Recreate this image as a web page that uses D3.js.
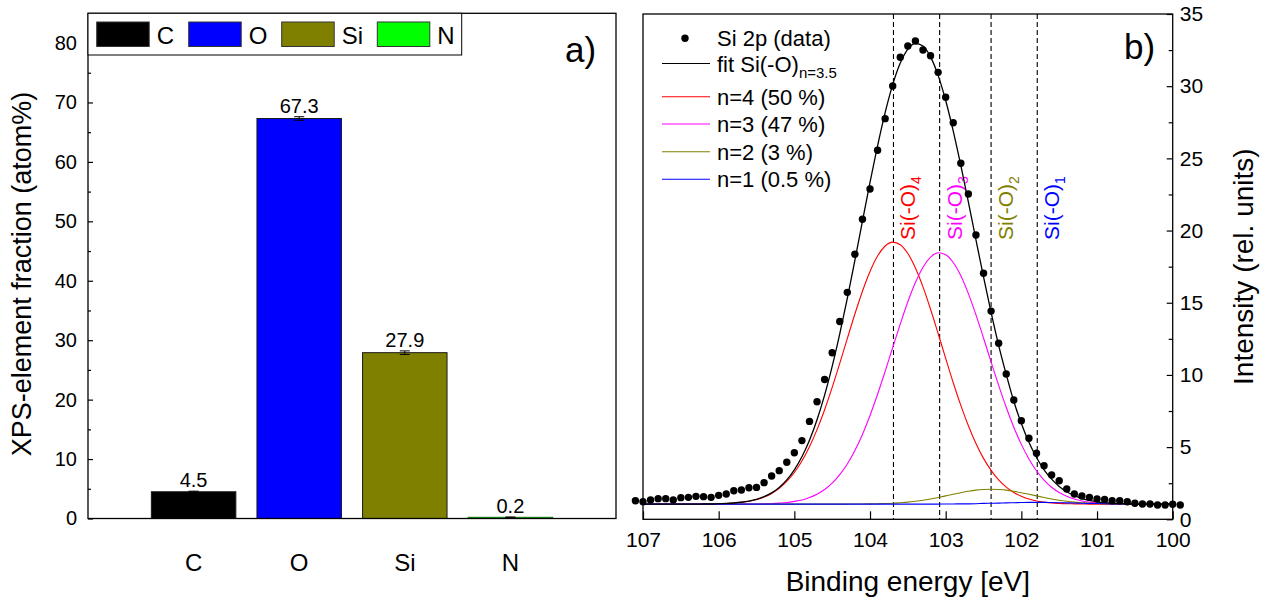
<!DOCTYPE html>
<html><head><meta charset="utf-8">
<script src="https://cdn.jsdelivr.net/npm/d3@7"></script>
<style>
body{margin:0;background:#fff;}
svg{display:block;font-family:"Liberation Sans",Arial,sans-serif;}
</style></head><body>
<svg id="chart" width="1267" height="606"></svg>
<script>
// ---------- Panel a data ----------
const elements = ["C", "O", "Si", "N"];
const fractions = [4.5, 67.3, 27.9, 0.2];
const fractionErr = [0.1, 0.3, 0.3, 0.05];
const fractionLabels = ["4.5", "67.3", "27.9", "0.2"];
const aMajorTicks = [0, 10, 20, 30, 40, 50, 60, 70, 80];
const aMinorTicks = [5, 15, 25, 35, 45, 55, 65, 75];

// ---------- Panel b data ----------
const dataEnergy = [107.1,107.0,106.9,106.8,106.7,106.6,106.5,106.4,106.3,106.2,
  106.1,106.0,105.9,105.8,105.7,105.6,105.5,105.4,105.3,105.2,
  105.1,105.0,104.9,104.8,104.7,104.6,104.5,104.4,104.3,104.2,
  104.1,104.0,103.9,103.8,103.7,103.6,103.5,103.4,103.3,103.2,
  103.1,103.0,102.9,102.8,102.7,102.6,102.5,102.4,102.3,102.2,
  102.1,102.0,101.9,101.8,101.7,101.6,101.5,101.4,101.3,101.2,
  101.1,101.0,100.9,100.8,100.7,100.6,100.5,100.4,100.3,100.2,
  100.1,100.0,99.9];
const dataIntensity = [1.29,1.22,1.34,1.43,1.43,1.34,1.50,1.52,1.59,1.57,
  1.52,1.66,1.75,1.98,2.03,2.19,2.21,2.54,3.00,3.37,
  3.95,4.61,5.45,6.78,8.14,9.68,11.54,13.70,15.72,18.36,
  20.78,22.88,25.56,27.75,30.01,32.00,32.78,33.13,32.51,32.11,
  30.96,29.23,27.47,24.66,22.53,19.69,17.04,14.42,12.19,10.06,
  8.26,6.83,5.61,4.57,3.71,3.07,2.67,2.10,1.75,1.61,
  1.52,1.41,1.38,1.29,1.29,1.22,1.11,1.06,1.06,0.99,
  0.99,1.04,0.99];

const fitEnergy = [107.0,106.9,106.8,106.7,106.6,106.5,106.4,106.3,106.2,106.1,
  106.0,105.9,105.8,105.7,105.6,105.5,105.4,105.3,105.2,105.1,
  105.0,104.9,104.8,104.7,104.6,104.5,104.4,104.3,104.2,104.1,
  104.0,103.9,103.8,103.7,103.6,103.5,103.4,103.3,103.2,103.1,
  103.0,102.9,102.8,102.7,102.6,102.5,102.4,102.3,102.2,102.1,
  102.0,101.9,101.8,101.7,101.6,101.5,101.4,101.3,101.2,101.1,
  101.0,100.9,100.8,100.7,100.6,100.5,100.4,100.3,100.2,100.1,
  100.0];
const fitTotal = [1.05,1.05,1.05,1.05,1.05,1.05,1.05,1.05,1.06,1.06,
  1.08,1.10,1.13,1.18,1.26,1.38,1.57,1.83,2.21,2.73,
  3.43,4.33,5.48,6.90,8.60,10.59,12.84,15.31,17.94,20.65,
  23.33,25.87,28.17,30.11,31.60,32.57,32.97,32.78,32.03,30.75,
  29.01,26.89,24.51,21.97,19.36,16.79,14.33,12.05,10.04,8.18,
  6.63,5.33,4.28,3.43,2.78,2.28,1.91,1.64,1.44,1.31,
  1.21,1.15,1.11,1.09,1.07,1.06,1.05,1.05,1.05,1.05,
  1.05];
const fitN4 = [1.05,1.05,1.05,1.05,1.05,1.05,1.05,1.05,1.06,1.06,
  1.08,1.09,1.13,1.18,1.25,1.37,1.54,1.79,2.14,2.62,
  3.24,4.04,5.03,6.21,7.59,9.14,10.80,12.52,14.22,15.80,
  17.17,18.24,18.93,19.20,19.02,18.41,17.41,16.10,14.55,12.87,
  11.15,9.46,7.89,6.48,5.25,4.22,3.39,2.73,2.23,1.86,
  1.59,1.40,1.27,1.19,1.13,1.10,1.08,1.07,1.06,1.05,
  1.05,1.05,1.05,1.05,1.05,1.05,1.05,1.05,1.05,1.05,
  1.05];
const fitN3 = [1.05,1.05,1.05,1.05,1.05,1.05,1.05,1.05,1.05,1.05,
  1.05,1.05,1.05,1.05,1.06,1.06,1.07,1.09,1.12,1.16,
  1.24,1.34,1.51,1.74,2.06,2.50,3.09,3.83,4.76,5.88,
  7.19,8.66,10.25,11.90,13.53,15.07,16.40,17.46,18.16,18.46,
  18.33,17.79,16.87,15.63,14.16,12.56,10.90,9.28,7.76,6.38,
  5.19,4.18,3.36,2.72,2.22,1.85,1.59,1.40,1.27,1.19,
  1.13,1.10,1.08,1.07,1.06,1.05,1.05,1.05,1.05,1.05,
  1.05];
const fitN2 = [1.05,1.05,1.05,1.05,1.05,1.05,1.05,1.05,1.05,1.05,
  1.05,1.05,1.05,1.05,1.05,1.05,1.05,1.05,1.05,1.05,
  1.05,1.05,1.05,1.05,1.05,1.05,1.05,1.05,1.06,1.06,
  1.07,1.08,1.09,1.11,1.15,1.19,1.25,1.32,1.41,1.51,
  1.62,1.73,1.84,1.94,2.02,2.06,2.08,2.06,2.02,1.94,
  1.84,1.73,1.62,1.51,1.41,1.32,1.25,1.19,1.15,1.11,
  1.09,1.08,1.07,1.06,1.05,1.05,1.05,1.05,1.05,1.05,
  1.05];
const fitN1 = [1.05,1.05,1.05,1.05,1.05,1.05,1.05,1.05,1.05,1.05,
  1.05,1.05,1.05,1.05,1.05,1.05,1.05,1.05,1.05,1.05,
  1.05,1.05,1.05,1.05,1.05,1.05,1.05,1.05,1.05,1.05,
  1.05,1.05,1.05,1.05,1.05,1.05,1.05,1.05,1.05,1.05,
  1.06,1.06,1.07,1.07,1.08,1.10,1.11,1.12,1.14,1.15,
  1.16,1.17,1.17,1.17,1.16,1.15,1.14,1.13,1.11,1.10,
  1.09,1.08,1.07,1.06,1.06,1.06,1.05,1.05,1.05,1.05,
  1.05];
const peakPositions = [103.69, 103.08, 102.40, 101.79];
const peakSubscripts = ["4", "3", "2", "1"];
const bXTicks = [107, 106, 105, 104, 103, 102, 101, 100];
const bYMajorTicks = [0, 5, 10, 15, 20, 25, 30, 35];
const bYMinorTicks = [2.5, 7.5, 12.5, 17.5, 22.5, 27.5, 32.5];
const legendBLabels = ["n=4 (50 %)", "n=3 (47 %)", "n=2 (3 %)", "n=1 (0.5 %)"];

// ---------- styles ----------
const barColors = ["#000000", "#0000ff", "#808000", "#00ff00"];
const compColors = ["#ff0000", "#ff00ff", "#808000", "#0000ff"];
const FONT = "'Liberation Sans', Arial, sans-serif";

const svg = d3.select("#chart");

// ================= Panel a =================
const xA = d3.scaleLinear().domain([0, 5]).range([88, 616]);
const yA = d3.scaleLinear().domain([0, 85]).range([518.5, 13.3]);
const gA = svg.append("g");

gA.selectAll("rect.bar").data(elements).join("rect")
  .attr("class", "bar")
  .attr("x", (d, i) => xA(i + 1 - 0.4))
  .attr("width", xA(0.8) - xA(0))
  .attr("y", (d, i) => yA(fractions[i]))
  .attr("height", (d, i) => Math.max(yA(0) - yA(fractions[i]), 0.5))
  .attr("fill", (d, i) => barColors[i])
  .attr("stroke", (d, i) => i === 3 ? "#0a7a0a" : "#1a1a1a")
  .attr("stroke-width", 1);

// error bars
const eb = gA.selectAll("g.err").data(elements).join("g").attr("class", "err")
  .attr("stroke", "#000").attr("stroke-width", 1);
eb.append("line")
  .attr("x1", (d, i) => xA(i + 1)).attr("x2", (d, i) => xA(i + 1))
  .attr("y1", (d, i) => yA(fractions[i] - fractionErr[i]))
  .attr("y2", (d, i) => yA(fractions[i] + fractionErr[i]));
eb.append("line")
  .attr("x1", (d, i) => xA(i + 1) - 5).attr("x2", (d, i) => xA(i + 1) + 5)
  .attr("y1", (d, i) => yA(fractions[i] + fractionErr[i]))
  .attr("y2", (d, i) => yA(fractions[i] + fractionErr[i]));
eb.append("line")
  .attr("x1", (d, i) => xA(i + 1) - 5).attr("x2", (d, i) => xA(i + 1) + 5)
  .attr("y1", (d, i) => yA(fractions[i] - fractionErr[i]))
  .attr("y2", (d, i) => yA(fractions[i] - fractionErr[i]));

// value labels
gA.selectAll("text.val").data(elements).join("text")
  .attr("class", "val")
  .attr("x", (d, i) => xA(i + 1))
  .attr("y", (d, i) => yA(fractions[i] + fractionErr[i]) - 4)
  .attr("text-anchor", "middle")
  .attr("font-size", 20).attr("font-family", FONT)
  .text((d, i) => fractionLabels[i]);

// category labels
gA.selectAll("text.cat").data(elements).join("text")
  .attr("class", "cat")
  .attr("x", (d, i) => xA(i + 1))
  .attr("y", 571)
  .attr("text-anchor", "middle")
  .attr("font-size", 24).attr("font-family", FONT)
  .text(d => d);

// y axis a
const axA = gA.append("g").attr("transform", `translate(${xA(0)},0)`)
  .call(d3.axisLeft(yA).tickValues(aMajorTicks).tickSize(-5).tickPadding(11));
axA.select(".domain").remove();
axA.selectAll("text").attr("font-size", 20).attr("font-family", FONT).attr("fill", "#000");
axA.selectAll("line").attr("stroke-width", 1.2);
const axAm = gA.append("g").attr("transform", `translate(${xA(0)},0)`)
  .call(d3.axisLeft(yA).tickValues(aMinorTicks).tickSize(-3).tickFormat(""));
axAm.select(".domain").remove();
axAm.selectAll("line").attr("stroke-width", 1.2);

// frame a
gA.append("rect")
  .attr("x", xA(0)).attr("y", yA(85))
  .attr("width", xA(5) - xA(0)).attr("height", yA(0) - yA(85))
  .attr("fill", "none").attr("stroke", "#000").attr("stroke-width", 1.3);

// legend a
gA.append("rect").attr("x", xA(0)).attr("y", yA(85))
  .attr("width", 373.7).attr("height", 41.7)
  .attr("fill", "#fff").attr("stroke", "#000").attr("stroke-width", 1);
const legAx = [96.7, 188.7, 281.7, 377.3];
const legA = gA.selectAll("g.lega").data(elements).join("g").attr("class", "lega")
  .attr("transform", (d, i) => `translate(${legAx[i]},22)`);
legA.append("rect").attr("width", 52.5).attr("height", 24.5)
  .attr("fill", (d, i) => barColors[i]).attr("stroke", "#333").attr("stroke-width", 1);
legA.append("text").attr("x", 60).attr("y", 22)
  .attr("font-size", 24).attr("font-family", FONT).text(d => d);

// y title a
svg.append("text")
  .attr("transform", "translate(31,274) rotate(-90)")
  .attr("text-anchor", "middle")
  .attr("font-size", 27).attr("font-family", FONT)
  .text("XPS-element fraction (atom%)");

svg.append("text").attr("x", 565).attr("y", 62)
  .attr("font-size", 35).attr("font-family", FONT).text("a)");

// ================= Panel b =================
const xB = d3.scaleLinear().domain([107, 100]).range([643, 1172.7]);
const yB = d3.scaleLinear().domain([0, 35]).range([519.3, 14]);
const gB = svg.append("g");

// dashed reference lines
gB.selectAll("line.peak").data(peakPositions).join("line")
  .attr("class", "peak")
  .attr("x1", d => xB(d)).attr("x2", d => xB(d))
  .attr("y1", yB(35)).attr("y2", yB(0))
  .attr("stroke", "#000").attr("stroke-width", 1.1).attr("stroke-dasharray", "5,3");

// peak labels (rotated)
const pl = gB.selectAll("text.plab").data(peakPositions).join("text")
  .attr("class", "plab")
  .attr("transform", d => `translate(${xB(d) + 22},240) rotate(-90)`)
  .attr("font-size", 21).attr("font-family", FONT)
  .attr("fill", (d, i) => compColors[i]);
pl.append("tspan").text("Si(-O)");
pl.append("tspan").attr("font-size", 14).attr("dy", 6).text((d, i) => peakSubscripts[i]);

// component curves
const line = d3.line().x(d => xB(d[0])).y(d => yB(d[1])).curve(d3.curveMonotoneX);
const comps = [fitN4, fitN3, fitN2, fitN1];
comps.forEach((c, i) => {
  gB.append("path")
    .datum(fitEnergy.map((e, j) => [e, c[j]]))
    .attr("d", line).attr("fill", "none")
    .attr("stroke", compColors[i]).attr("stroke-width", 1.1);
});
gB.append("path")
  .datum(fitEnergy.map((e, j) => [e, fitTotal[j]]))
  .attr("d", line).attr("fill", "none")
  .attr("stroke", "#000").attr("stroke-width", 1.3);

// data points
gB.selectAll("circle.pt").data(dataEnergy).join("circle")
  .attr("class", "pt")
  .attr("cx", d => xB(d))
  .attr("cy", (d, i) => yB(dataIntensity[i]))
  .attr("r", 3.7).attr("fill", "#000");

// axes b
const axBx = gB.append("g").attr("transform", `translate(0,${yB(0)})`)
  .call(d3.axisBottom(xB).tickValues(bXTicks).tickSize(-8).tickPadding(13).tickFormat(d3.format("d")));
axBx.select(".domain").remove();
axBx.selectAll("text").attr("font-size", 21).attr("font-family", FONT).attr("fill", "#000");
axBx.selectAll("line").attr("stroke-width", 1.2);

const axBy = gB.append("g").attr("transform", `translate(${xB(100)},0)`)
  .call(d3.axisRight(yB).tickValues(bYMajorTicks).tickSize(-6).tickPadding(7));
axBy.select(".domain").remove();
axBy.selectAll("text").attr("font-size", 21).attr("font-family", FONT).attr("fill", "#000");
axBy.selectAll("line").attr("stroke-width", 1.2);
const axBym = gB.append("g").attr("transform", `translate(${xB(100)},0)`)
  .call(d3.axisRight(yB).tickValues(bYMinorTicks).tickSize(-4).tickFormat(""));
axBym.select(".domain").remove();
axBym.selectAll("line").attr("stroke-width", 1.2);

gB.append("rect")
  .attr("x", xB(107)).attr("y", yB(35))
  .attr("width", xB(100) - xB(107)).attr("height", yB(0) - yB(35))
  .attr("fill", "none").attr("stroke", "#000").attr("stroke-width", 1.3);

// legend b
const lgB = gB.append("g").attr("font-family", FONT).attr("font-size", 22);
lgB.append("circle").attr("cx", 685).attr("cy", 38.3).attr("r", 3.7).attr("fill", "#000");
lgB.append("text").attr("x", 717).attr("y", 46.3).text("Si 2p (data)");
lgB.append("line").attr("x1", 662).attr("x2", 710).attr("y1", 63.5).attr("y2", 63.5)
  .attr("stroke", "#000").attr("stroke-width", 1.2);
const fitT = lgB.append("text").attr("x", 717).attr("y", 71.5);
fitT.append("tspan").text("fit Si(-O)");
fitT.append("tspan").attr("font-size", 15).attr("dy", 6).text("n=3.5");
const legBy = [96.7, 124, 151.7, 179.3];
legendBLabels.forEach((lab, i) => {
  lgB.append("line").attr("x1", 662).attr("x2", 710).attr("y1", legBy[i]).attr("y2", legBy[i])
    .attr("stroke", compColors[i]).attr("stroke-width", 1.1);
  lgB.append("text").attr("x", 717).attr("y", legBy[i] + 8).text(lab);
});

svg.append("text").attr("x", 1124).attr("y", 59)
  .attr("font-size", 35).attr("font-family", FONT).text("b)");

svg.append("text")
  .attr("x", (xB(107) + xB(100)) / 2).attr("y", 591)
  .attr("text-anchor", "middle")
  .attr("font-size", 28).attr("font-family", FONT)
  .text("Binding energy [eV]");

svg.append("text")
  .attr("transform", `translate(1253,${(yB(0) + yB(35)) / 2}) rotate(-90)`)
  .attr("text-anchor", "middle")
  .attr("font-size", 28).attr("font-family", FONT)
  .text("Intensity (rel. units)");
</script>
</body></html>
